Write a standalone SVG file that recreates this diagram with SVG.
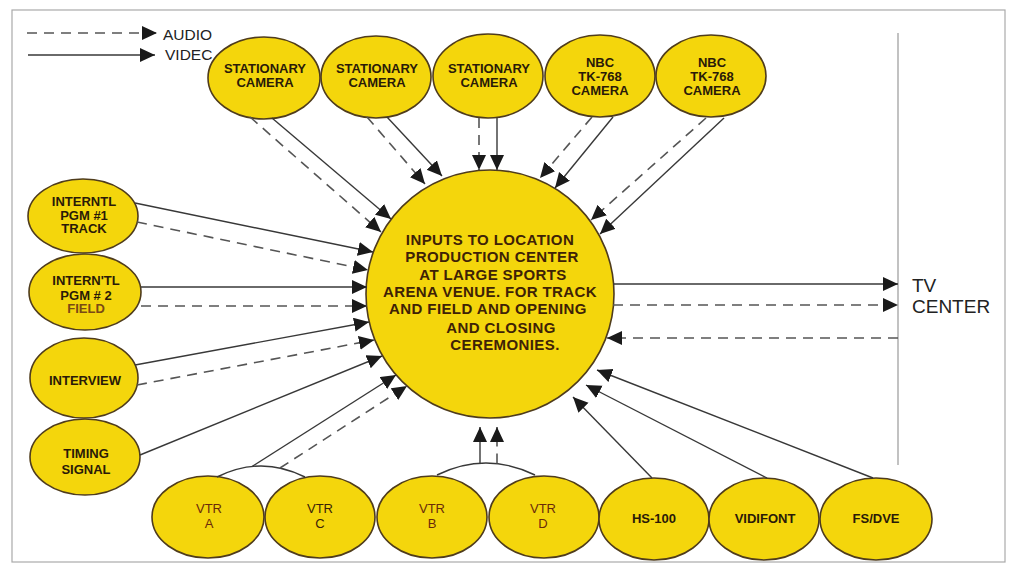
<svg xmlns="http://www.w3.org/2000/svg" width="1010" height="568" viewBox="0 0 1010 568">
<style>
.n{fill:#F4D60C;stroke:#4f3c1c;stroke-width:1.6}
.t{font-family:"Liberation Sans",Arial,sans-serif;font-size:13px;font-weight:bold;fill:#2a1a08;text-anchor:middle}
.v{font-family:"Liberation Sans",Arial,sans-serif;font-size:13px;fill:#6a2a0a;text-anchor:middle}
.c{font-family:"Liberation Sans",Arial,sans-serif;font-size:15px;font-weight:bold;fill:#3e2206;text-anchor:middle;letter-spacing:0.4px}
.lg{font-family:"Liberation Sans",Arial,sans-serif;font-size:15.5px;fill:#222}
.tv{font-family:"Liberation Sans",Arial,sans-serif;font-size:19px;fill:#222}
.s{fill:none;stroke:#383838;stroke-width:1.4;marker-end:url(#ah)}
.d{fill:none;stroke:#555;stroke-width:1.6;stroke-dasharray:10 7;marker-end:url(#ah)}
.sn{fill:none;stroke:#383838;stroke-width:1.4}
.dn{fill:none;stroke:#555;stroke-width:1.6;stroke-dasharray:10 7}
</style>
<defs>
<marker id="ah" markerUnits="userSpaceOnUse" markerWidth="16" markerHeight="15" refX="15" refY="7" orient="auto">
<path d="M0,0 L15,7 L0,14 z" fill="#1a1a1a"/>
</marker>
</defs>
<rect x="0" y="0" width="1010" height="568" fill="#fff"/>
<rect x="12" y="10" width="993" height="552" fill="none" stroke="#aaa" stroke-width="1.2"/>

<g id="legend">
<line x1="27" y1="33" x2="157" y2="33" class="d"/>
<line x1="28" y1="55" x2="155" y2="55" class="s"/>
<text x="163" y="40" class="lg">AUDIO</text>
<text x="165" y="60" class="lg">VIDEC</text>
</g>

<g id="tv-center">
<line x1="898" y1="33" x2="898" y2="465" stroke="#999" stroke-width="1.2"/>
<text x="912" y="292" class="tv">TV</text>
<text x="912" y="313" class="tv">CENTER</text>
</g>

<g id="center">
<circle cx="490" cy="294" r="124" class="n"/>
<text x="490" y="245" class="c">INPUTS TO LOCATION</text>
<text x="492" y="262" class="c">PRODUCTION CENTER</text>
<text x="493" y="280" class="c">AT LARGE SPORTS</text>
<text x="490" y="297" class="c">ARENA VENUE. FOR TRACK</text>
<text x="488" y="314" class="c">AND FIELD AND OPENING</text>
<text x="501" y="333" class="c">AND CLOSING</text>
<text x="505" y="350" class="c">CEREMONIES.</text>
</g>

<g id="cam1"><ellipse cx="264" cy="78" rx="56" ry="41" class="n"/><text x="265" y="73" class="t">STATIONARY</text><text x="265" y="87" class="t">CAMERA</text></g>
<g id="cam2"><ellipse cx="376" cy="77" rx="55" ry="41" class="n"/><text x="377" y="73" class="t">STATIONARY</text><text x="377" y="87" class="t">CAMERA</text></g>
<g id="cam3"><ellipse cx="488" cy="76" rx="55" ry="42" class="n"/><text x="489" y="73" class="t">STATIONARY</text><text x="489" y="87" class="t">CAMERA</text></g>
<g id="cam4"><ellipse cx="600" cy="76" rx="55" ry="41" class="n"/><text x="600" y="67" class="t">NBC</text><text x="600" y="81" class="t">TK-768</text><text x="600" y="95" class="t">CAMERA</text></g>
<g id="cam5"><ellipse cx="711" cy="76" rx="55" ry="41" class="n"/><text x="712" y="67" class="t">NBC</text><text x="712" y="81" class="t">TK-768</text><text x="712" y="95" class="t">CAMERA</text></g>

<g id="pgm1"><ellipse cx="83" cy="216" rx="55" ry="37" class="n"/><text x="84" y="206" class="t">INTERNTL</text><text x="84" y="220" class="t">PGM #1</text><text x="84" y="233" class="t">TRACK</text></g>
<g id="pgm2"><ellipse cx="85" cy="292" rx="56" ry="38" class="n"/><text x="86" y="285" class="t">INTERN'TL</text><text x="86" y="300" class="t">PGM # 2</text><text x="86" y="313" class="t" style="fill:#7a4a14">FIELD</text></g>
<g id="interview"><ellipse cx="84" cy="378" rx="54" ry="40" class="n"/><text x="85" y="385" class="t">INTERVIEW</text></g>
<g id="timing"><ellipse cx="85" cy="457" rx="55" ry="38" class="n"/><text x="86" y="458" class="t">TIMING</text><text x="86" y="474" class="t">SIGNAL</text></g>

<g id="vtr-a"><ellipse cx="208" cy="517" rx="56" ry="41" class="n"/><text x="209" y="513" class="v">VTR</text><text x="209" y="528" class="v">A</text></g>
<g id="vtr-c"><ellipse cx="320" cy="517" rx="55" ry="41" class="n"/><text x="320" y="513" class="v" style="fill:#3a2208">VTR</text><text x="320" y="528" class="v" style="fill:#3a2208">C</text></g>
<g id="vtr-b"><ellipse cx="432" cy="517" rx="55" ry="41" class="n"/><text x="432" y="513" class="v">VTR</text><text x="432" y="528" class="v">B</text></g>
<g id="vtr-d"><ellipse cx="544" cy="517" rx="55" ry="41" class="n"/><text x="543" y="513" class="v">VTR</text><text x="543" y="528" class="v">D</text></g>
<g id="hs100"><ellipse cx="654" cy="519" rx="55" ry="41" class="n"/><text x="654" y="523" class="t">HS-100</text></g>
<g id="vidifont"><ellipse cx="764" cy="519" rx="55" ry="41" class="n"/><text x="765" y="523" class="t">VIDIFONT</text></g>
<g id="fsdve"><ellipse cx="876" cy="519" rx="56" ry="41" class="n"/><text x="876" y="523" class="t">FS/DVE</text></g>

<g id="connectors">
<line x1="250" y1="117" x2="381" y2="232" class="d"/>
<line x1="272" y1="118" x2="391" y2="219" class="s"/>
<line x1="367" y1="117" x2="425" y2="184" class="d"/>
<line x1="387" y1="117" x2="442" y2="176" class="s"/>
<line x1="479" y1="118" x2="479" y2="170" class="d"/>
<line x1="497" y1="118" x2="497" y2="170" class="s"/>
<line x1="592" y1="117" x2="540" y2="178" class="d"/>
<line x1="613" y1="117" x2="555" y2="188" class="s"/>
<line x1="706" y1="118" x2="591" y2="220" class="d"/>
<line x1="724" y1="118" x2="600" y2="234" class="s"/>
<line x1="135" y1="203" x2="373" y2="252" class="s"/>
<line x1="137" y1="222" x2="368" y2="270" class="d"/>
<line x1="141" y1="287" x2="367" y2="287" class="s"/>
<line x1="141" y1="306" x2="367" y2="306" class="d"/>
<line x1="135" y1="365" x2="369" y2="322" class="s"/>
<line x1="137" y1="385" x2="374" y2="340" class="d"/>
<line x1="140" y1="455" x2="382" y2="356" class="s"/>
<path d="M217,477 Q261,455 305,477" class="sn"/>
<line x1="252" y1="466.5" x2="396" y2="375" class="s"/>
<line x1="280" y1="468" x2="407" y2="386" class="d"/>
<path d="M437,475 Q486,451 535,475" class="sn"/>
<line x1="480" y1="463" x2="480" y2="427" class="s"/>
<line x1="497" y1="463.5" x2="497" y2="427" class="d"/>
<line x1="652" y1="478" x2="573" y2="397" class="s"/>
<line x1="767" y1="478" x2="586" y2="385" class="s"/>
<line x1="873" y1="478" x2="597" y2="370" class="s"/>
<line x1="613" y1="284" x2="898" y2="284" class="s"/>
<line x1="613" y1="305" x2="898" y2="305" class="d"/>
<line x1="898" y1="338" x2="607" y2="338" class="d"/>
</g>
</svg>
